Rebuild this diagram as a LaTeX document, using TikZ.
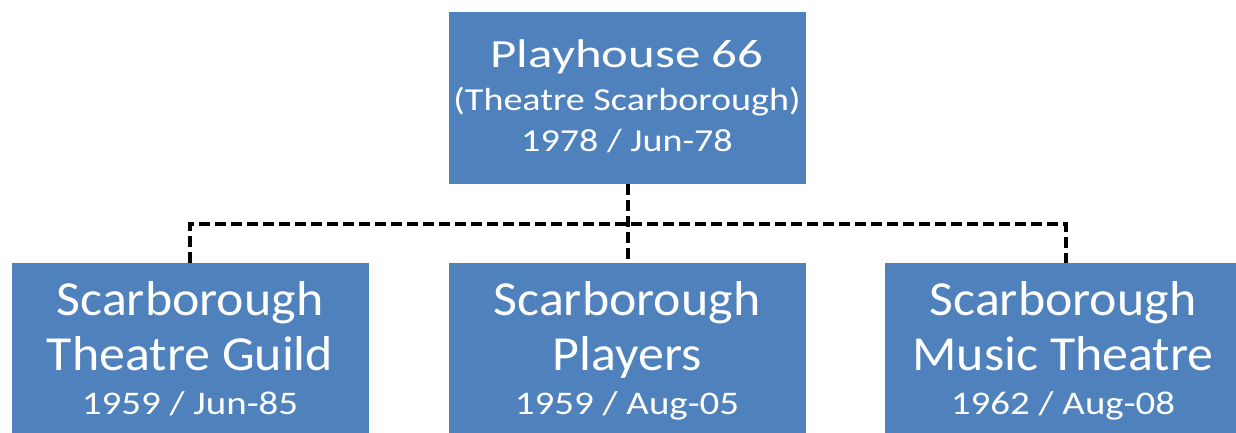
\documentclass[tikz,border=0pt]{standalone}
\usepackage{fontspec}
\usepackage{graphicx}
\setmainfont{Carlito}
\definecolor{boxblue}{HTML}{4F81BD}
\newcommand{\hstretch}[2]{\scalebox{#1}[1]{#2}}
\begin{document}
\begin{tikzpicture}[x=1pt,y=-1pt,
  orgbox/.style={fill=boxblue,draw=none,inner sep=0pt,anchor=north west},
  txt/.style={text=white,anchor=base,inner sep=0pt},
  big/.style={font=\fontsize{40}{46}\selectfont},
  mid/.style={font=\fontsize{32}{38}\selectfont},
  bigb/.style={font=\fontsize{49}{55}\selectfont},
  small/.style={font=\fontsize{33}{38}\selectfont},
  conn/.style={draw=black,line width=3.8pt,dash pattern=on 11pt off 5pt}]
\clip (0,0) rectangle (1236,432);
\useasboundingbox (0,0) rectangle (1236,432);
% boxes
\node[orgbox,minimum width=357pt,minimum height=172pt] (top) at (449,12) {};
\node[orgbox,minimum width=357pt,minimum height=190pt] (left) at (12,263) {};
\node[orgbox,minimum width=357pt,minimum height=190pt] (center) at (449,263) {};
\node[orgbox,minimum width=357pt,minimum height=190pt] (right) at (885,263) {};
% texts top
\node[txt,big] (t1) at (627,67) {\hstretch{1.27}{Playhouse 66}};
\node[txt,mid] (t2) at (627,110) {\hstretch{1.19}{(Theatre Scarborough)}};
\node[txt,mid] (t3) at (627,151) {\hstretch{1.19}{1978 / Jun-78}};
% left
\node[txt,bigb] (l1) at (190,315) {\hstretch{1.06}{Scarborough}};
\node[txt,bigb] (l2) at (190,370) {\hstretch{1.06}{Theatre Guild}};
\node[txt,small] (l3) at (190,414) {\hstretch{1.18}{1959 / Jun-85}};
% center
\node[txt,bigb] (c1) at (627,315) {\hstretch{1.06}{Scarborough}};
\node[txt,bigb] (c2) at (627,370) {\hstretch{1.06}{Players}};
\node[txt,small] (c3) at (627,414) {\hstretch{1.18}{1959 / Aug-05}};
% right
\node[txt,bigb] (r1) at (1063,315) {\hstretch{1.06}{Scarborough}};
\node[txt,bigb] (r2) at (1063,370) {\hstretch{1.06}{Music Theatre}};
\node[txt,small] (r3) at (1063,414) {\hstretch{1.18}{1962 / Aug-08}};
% connectors
\coordinate (bus) at (0,224);
\draw[conn] (top.south) -- (center.north);
\draw[conn] ([xshift=-438pt]center.north) -- ([xshift=-438pt]center.north |- bus) -- ([xshift=438pt]center.north |- bus) -- ([xshift=438pt]center.north);
\end{tikzpicture}
\end{document}
